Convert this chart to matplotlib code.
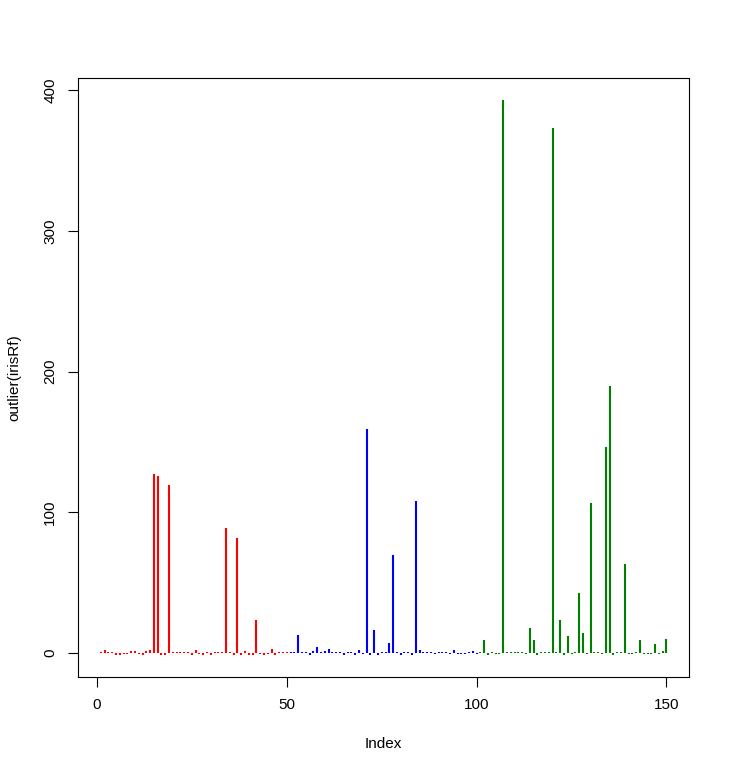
import matplotlib
matplotlib.use("Agg")
import matplotlib.pyplot as plt
import numpy as np

# outlier scores, one per iris row (1..150)
setosa = [1, 2, 0.8, 0.8, -1.4, -1.4, -0.8, -0.8, 1.4, 1.4,
          -0.8, -1, 1.4, 2.1, 127, 125.6, -1, -1, 119.2, 0.8,
          0.8, 0.8, 0.8, 0.9, -1, 2.1, -0.8, -1, 0.8, -1,
          0.9, 0.8, 0.8, 88.7, 0.8, -1, 81.6, -1, 1.4, -1,
          -1, 23.4, -0.8, -1, -0.8, 2.8, -1, 0.8, 0.8, 0.9]
versicolor = [0.9, 0.9, 12.7, 0.8, 0.9, -1, 1.4, 4.2, 0.8, 1.4,
              2.8, 0.8, 0.9, 0.8, -1, 0.9, 0.8, -1, 2.1, -0.8,
              159.3, -1, 16.3, -1, 0.8, 0.8, 7, 69.4, 0.8, -1,
              0.8, 0.8, -1, 108.3, 2.1, 0.9, 0.9, 0.9, -0.8, 0.8,
              0.8, 0.8, -0.8, 2.1, -0.8, -0.8, -0.8, 0.8, 1.4, -0.8]
virginica = [0.8, 9.2, -1, 0.9, -0.8, -0.8, 392.6, 0.9, 0.9, 0.8,
             0.8, 0.8, -0.8, 17.7, 9.2, -1, 0.8, 0.8, 0.9, 373.2,
             0.8, 23.4, -1, 12, -0.8, 0.9, 43, 14, -0.8, 107,
             0.8, 0.8, -0.8, 146.5, 189.7, -1, 0.8, 0.8, 63.7, -0.8,
             -0.8, 0.8, 9.2, -0.8, -0.8, -0.8, 6.4, -0.8, 1.4, 10]
colours = ["red", "blue", "#008000"]

scores = np.array(setosa + versicolor + virginica)
index = np.arange(1, len(scores) + 1)
col = np.repeat(colours, [len(setosa), len(versicolor), len(virginica)])

plt.rcParams['font.family'] = ['Liberation Sans', 'DejaVu Sans']

fig = plt.figure(figsize=(7.3, 7.75), dpi=100)
ax = fig.add_axes([0.107, 0.126, 0.837, 0.773])

# R type="h" plot: vertical lines from zero
ax.vlines(index, 0, scores, colors=col, linewidth=1.5)

# R default 4% axis extension
xr = index.max() - index.min()
ax.set_xlim(index.min() - 0.04 * xr, index.max() + 0.04 * xr)
yr = scores.max() - scores.min()
ax.set_ylim(scores.min() - 0.04 * yr, scores.max() + 0.04 * yr)

ax.set_xticks([0, 50, 100, 150])
ax.set_yticks([0, 100, 200, 300, 400])
ax.set_yticklabels(["0", "100", "200", "300", "400"], rotation=90, va="center")
ax.tick_params(direction="out", length=7, width=0.8, labelsize=11, pad=8)
for s in ax.spines.values():
    s.set_linewidth(0.8)

ax.set_xlabel("Index", fontsize=11, labelpad=18)
ax.set_ylabel("outlier(irisRf)", fontsize=11, labelpad=16)

fig.savefig("out.png", dpi=100)
